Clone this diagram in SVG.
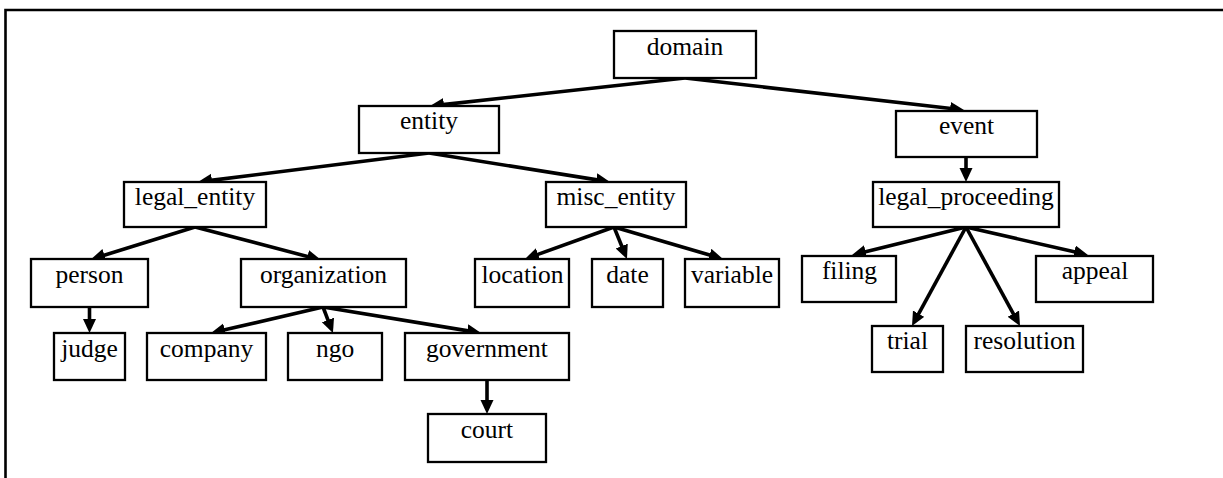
<svg xmlns="http://www.w3.org/2000/svg" width="1223" height="478" viewBox="0 0 1223 478">
<style>
.n rect{fill:#fff;stroke:#000;stroke-width:2.3}
.n text{font-family:'Liberation Serif','Times New Roman',serif;font-size:25.5px;fill:#000;text-anchor:middle}
.e line{stroke:#000;stroke-width:3.6;marker-end:url(#ah)}
</style>
<defs>
<marker id="ah" markerUnits="userSpaceOnUse" markerWidth="16" markerHeight="14" refX="1" refY="6.5" orient="auto">
<path d="M0,0 L14,6.5 L0,13 z" fill="#000"/>
</marker>
</defs>
<rect width="1223" height="478" fill="#fff"/>
<path d="M5.5,480 L5.5,10 L1225,10" fill="none" stroke="#000" stroke-width="2.6"/>
<g id="connectors" class="e">
<line x1="685" y1="78" x2="442.9" y2="104.6"/>
<line x1="685" y1="78" x2="951.1" y2="108.5"/>
<line x1="966" y1="157" x2="966" y2="169"/>
<line x1="429" y1="153" x2="210.9" y2="180.4"/>
<line x1="429" y1="153" x2="597.2" y2="179.9"/>
<line x1="195" y1="227" x2="103.4" y2="255.5"/>
<line x1="195" y1="227" x2="308.4" y2="256.7"/>
<line x1="89.5" y1="307" x2="89.5" y2="320"/>
<line x1="323" y1="307" x2="223.7" y2="330.1"/>
<line x1="323" y1="307" x2="328.3" y2="320.9"/>
<line x1="323" y1="307" x2="468.2" y2="330.9"/>
<line x1="487" y1="380" x2="487" y2="401"/>
<line x1="614" y1="227" x2="537.2" y2="254.6"/>
<line x1="614" y1="227" x2="622.1" y2="247"/>
<line x1="614" y1="227" x2="710.5" y2="255.3"/>
<line x1="966" y1="227" x2="864.6" y2="251.9"/>
<line x1="966" y1="227" x2="918.2" y2="314.6"/>
<line x1="966" y1="227" x2="1013.8" y2="314.6"/>
<line x1="966" y1="227" x2="1075.3" y2="252.1"/>
</g>
<g id="domain" class="n"><rect x="614" y="31" width="142" height="47"/><text x="685" y="54.5">domain</text></g>
<g id="entity" class="n"><rect x="359" y="106" width="140" height="47"/><text x="429" y="129">entity</text></g>
<g id="event" class="n"><rect x="896" y="111" width="141" height="46"/><text x="966.5" y="134">event</text></g>
<g id="legal_proceeding" class="n"><rect x="873" y="182" width="186" height="45"/><text x="966" y="205">legal_proceeding</text></g>
<g id="legal_entity" class="n"><rect x="124" y="182" width="142" height="45"/><text x="195" y="205">legal_entity</text></g>
<g id="misc_entity" class="n"><rect x="546" y="182" width="140" height="45"/><text x="616" y="205">misc_entity</text></g>
<g id="person" class="n"><rect x="31" y="259" width="117" height="48"/><text x="89.5" y="283">person</text></g>
<g id="organization" class="n"><rect x="241" y="259" width="165" height="48"/><text x="323.5" y="283">organization</text></g>
<g id="judge" class="n"><rect x="54" y="333" width="71" height="47"/><text x="89.5" y="357">judge</text></g>
<g id="company" class="n"><rect x="147" y="333" width="119" height="47"/><text x="206.5" y="357">company</text></g>
<g id="ngo" class="n"><rect x="288" y="333" width="94" height="47"/><text x="335" y="357">ngo</text></g>
<g id="government" class="n"><rect x="405" y="333" width="164" height="47"/><text x="487" y="357">government</text></g>
<g id="court" class="n"><rect x="428" y="414" width="118" height="48"/><text x="487" y="438">court</text></g>
<g id="location" class="n"><rect x="475" y="259" width="94" height="48"/><text x="522.5" y="283">location</text></g>
<g id="date" class="n"><rect x="592" y="259" width="71" height="48"/><text x="627.5" y="283">date</text></g>
<g id="variable" class="n"><rect x="685" y="259" width="94" height="48"/><text x="732" y="283">variable</text></g>
<g id="filing" class="n"><rect x="802" y="256" width="94" height="46"/><text x="849.5" y="279">filing</text></g>
<g id="appeal" class="n"><rect x="1036" y="256" width="117" height="46"/><text x="1095" y="279">appeal</text></g>
<g id="trial" class="n"><rect x="872" y="326" width="71" height="46"/><text x="907.5" y="349">trial</text></g>
<g id="resolution" class="n"><rect x="966" y="326" width="117" height="46"/><text x="1024.5" y="349">resolution</text></g>
</svg>
